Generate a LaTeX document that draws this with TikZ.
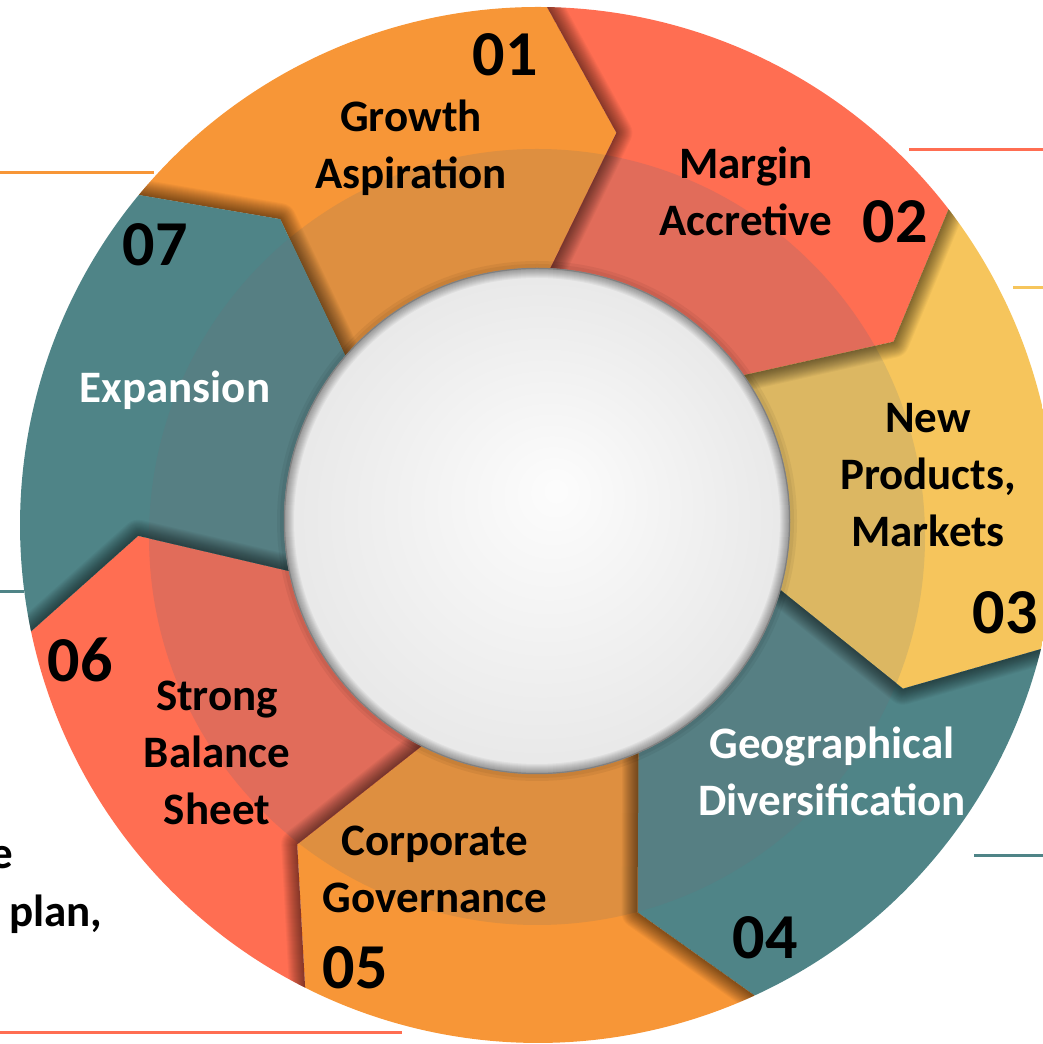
\documentclass[tikz,border=0pt]{standalone}
\usepackage{fontspec}
\setmainfont{Carlito}
\definecolor{segorange}{HTML}{F79637}
\definecolor{segorangeband}{HTML}{DE8F40}
\definecolor{segred}{HTML}{FF6E52}
\definecolor{segredband}{HTML}{E16C5A}
\definecolor{segyellow}{HTML}{F6C55C}
\definecolor{segyellowband}{HTML}{DCB762}
\definecolor{segteal}{HTML}{4F8487}
\definecolor{segtealband}{HTML}{567F83}
\tikzset{
  lbl/.style={font=\bfseries\fontsize{45}{57}\selectfont, align=center, text=black, inner sep=0pt},
  lblw/.style={lbl, text=white},
  num/.style={font=\bfseries\fontsize{64}{64}\selectfont, text=black, inner sep=0pt},
  leader/.style={line width=3pt}
}
\begin{document}
\begin{tikzpicture}[x=1pt,y=1pt]
\useasboundingbox (0,0) rectangle (1043,1044);
\clip (0,0) rectangle (1043,1044);
\coordinate (C) at (538,519);
\coordinate (B) at (537,507);
\coordinate (W) at (537,523);

% leader lines running off to the side texts
\coordinate (oa) at (0,871);    \coordinate (ob) at (154,871);
\coordinate (ra) at (909,894);  \coordinate (rb) at (1043,894);
\coordinate (ya) at (1013,756); \coordinate (yb) at (1043,756);
\coordinate (ta) at (0,452);    \coordinate (tb) at (24,452);
\coordinate (tc) at (974,188);  \coordinate (td) at (1043,188);
\coordinate (sa) at (0,11);     \coordinate (sb) at (402,11);
\draw[leader, segorange] (oa) -- (ob);
\draw[leader, segred] (ra) -- (rb);
\draw[leader, segyellow] (ya) -- (yb);
\draw[leader, segteal] (ta) -- (tb);
\draw[leader, segteal] (tc) -- (td);
\draw[leader, segred] (sa) -- (sb);

% seven chevron segments of the ring, clockwise from the top
\foreach \j/\col/\bandcol in {1/segorange/segorangeband, 2/segred/segredband,
    3/segyellow/segyellowband, 4/segteal/segtealband, 5/segorange/segorangeband,
    6/segred/segredband, 7/segteal/segtealband} {
  \pgfmathsetmacro\ba{140.43-51.43*(\j-1)}
  \pgfmathsetmacro\bb{\ba-51.43}
  \pgfmathsetmacro\ma{\ba-10.3}
  \pgfmathsetmacro\mb{\bb-10.3}
  \begin{scope}
    \clip[shift={(C)}] (\ba:518) arc[start angle=\ba, end angle=\bb, radius=518]
      -- (\mb:400) -- (\bb:240) arc[start angle=\bb, end angle=\ba, radius=240]
      -- (\ma:400) -- cycle;
    \fill[\col] (C) circle (530);
    \fill[\bandcol] (B) circle (388);
    % shadow cast by the previous arrow tip
    \foreach \w in {2,4,...,32}
      \draw[shift={(C)}, black, opacity=0.035, line width=\w pt, line join=round]
        (\ba:518) -- (\ma:400) -- (\ba:240);
  \end{scope}
}

% central disc: soft drop shadow, light radial fill, inner rim shadow
\foreach \r in {260,257}
  \fill[black, opacity=0.05] (W) circle (\r);
\foreach \i in {0,...,40} {
  \pgfmathsetmacro\t{\i/40}
  \pgfmathsetmacro\rr{253*(1-\t)+6*\t}
  \pgfmathsetmacro\pp{8*(1-\t)+1}
  \fill[black!\pp] ({537+20*\t},{523+30*\t}) circle (\rr);
}
\begin{scope}
  \clip (W) circle (253);
  \foreach \w in {2,4,...,20}
    \draw[black, opacity=0.04, line width=\w pt] (W) circle (253);
\end{scope}
\draw[black!50, line width=1.2pt] (W) circle (252.6);

% step numbers
\node[num] (n1) at (505,989) {01};
\node[num] (n2) at (895,822) {02};
\node[num] (n3) at (1005,431) {03};
\node[num] (n4) at (765,106) {04};
\node[num] (n5) at (355,76) {05};
\node[num] (n6) at (80,384) {06};
\node[num] (n7) at (155,799) {07};

% step titles
\node[lbl] (l1) at (411,896) {Growth\\Aspiration};
\node[lbl] (l2) at (746,853) {Margin\\Accretive};
\node[lbl] (l3) at (928,569) {New\\Products,\\Markets};
\node[lblw] (l4) at (832,273) {Geographical\\Diversification};
\node[lbl] (l5) at (435,175) {Corporate\\Governance};
\node[lbl] (l6) at (217,291) {Strong\\Balance\\Sheet};
\node[lblw] (l7) at (175,654) {Expansion};

% side text running in from the left
\node[lbl, anchor=base east] (s1) at (13,175) {e};
\node[lbl, anchor=base west] (s2) at (9,117) {plan,};
\end{tikzpicture}
\end{document}
